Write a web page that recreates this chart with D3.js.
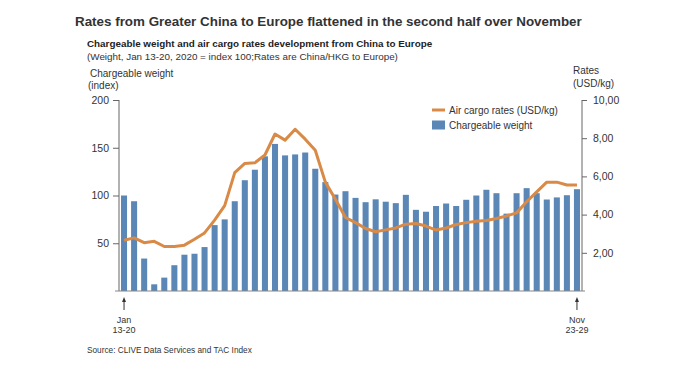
<!DOCTYPE html>
<html>
<head>
<meta charset="utf-8">
<script src="https://cdn.jsdelivr.net/npm/d3@7"></script>
<style>
  body { margin: 0; background: #fff; }
  svg text { font-family: "Liberation Sans", Arial, sans-serif; fill: #333; }
</style>
</head>
<body>
<svg id="chart" width="700" height="366"></svg>
<script>
// weekly chargeable weight index (Jan 13-20 = 100) and China/HKG -> Europe rates
const weight = [100, 94, 34, 7, 14, 27, 38, 39, 46, 69,
    75, 94, 116, 127, 141, 154, 142, 143, 145, 128,
    114, 101, 104.5, 97.5, 93, 96, 93.5, 92, 100.7, 85,
    83, 89, 91.6, 89, 95.5, 100, 106, 102.4, 81, 102.4,
    107.7, 102.4, 95.8, 98, 100.3, 106.6];
const rates = [2.66, 2.78, 2.53, 2.6, 2.33, 2.33, 2.4, 2.71, 3.04, 3.71,
    4.47, 6.2, 6.68, 6.71, 7.12, 8.22, 7.9, 8.47, 7.95, 7.37,
    5.7, 4.8, 3.85, 3.58, 3.27, 3.1, 3.2, 3.3, 3.5, 3.53,
    3.4, 3.19, 3.3, 3.48, 3.58, 3.65, 3.69, 3.8, 3.93, 4.09,
    4.67, 5.19, 5.7, 5.7, 5.55, 5.55];
const weeks = d3.range(weight.length);
const firstWeek = ["Jan", "13-20"];
const lastWeek = ["Nov", "23-29"];
const weightTicks = [50, 100, 150, 200];
const rateTicks = [2, 4, 6, 8, 10];

const barColor = "#5b87b7";
const lineColor = "#d98a47";

const svg = d3.select("#chart");
const plotL = 119, plotR = 582, plotT = 100, plotB = 291;

const x = d3.scaleBand()
    .domain(weeks)
    .range([plotL, plotR])
    .paddingInner(0.4)
    .paddingOuter(0.2);
const yW = d3.scaleLinear().domain([0, 200]).range([plotB, plotT]);
const yR = d3.scaleLinear().domain([0, 10]).range([plotB, plotT]);

// titles
svg.append("text").attr("x", 75).attr("y", 25.5)
    .style("font-size", "13.4px").style("font-weight", "bold")
    .text("Rates from Greater China to Europe flattened in the second half over November");
svg.append("text").attr("x", 87).attr("y", 47)
    .style("font-size", "9.85px").style("font-weight", "bold").style("fill", "#222")
    .text("Chargeable weight and air cargo rates development from China to Europe");
svg.append("text").attr("x", 87).attr("y", 59.5)
    .style("font-size", "9.85px")
    .text("(Weight, Jan 13-20, 2020 = index 100;Rates are China/HKG to Europe)");

svg.append("text").attr("x", 90).attr("y", 77)
    .style("font-size", "10px").text("Chargeable weight");
svg.append("text").attr("x", 88).attr("y", 89)
    .style("font-size", "10px").text("(index)");
svg.append("text").attr("x", 573).attr("y", 74)
    .style("font-size", "10px").text("Rates");
svg.append("text").attr("x", 573).attr("y", 87)
    .style("font-size", "10px").text("(USD/kg)");

// bars
svg.append("g").selectAll("rect")
    .data(weight)
    .enter()
    .append("rect")
    .attr("x", (d, i) => x(i))
    .attr("width", x.bandwidth())
    .attr("y", d => yW(d))
    .attr("height", d => yW(0) - yW(d))
    .attr("fill", barColor);

// rate line
const line = d3.line()
    .x((d, i) => x(i) + x.bandwidth() / 2)
    .y(d => yR(d));
svg.append("path")
    .datum(rates)
    .attr("d", line)
    .attr("fill", "none")
    .attr("stroke", lineColor)
    .attr("stroke-width", 3)
    .attr("stroke-linejoin", "round");

// left axis
const leftAxis = d3.axisLeft(yW).tickValues(weightTicks).tickSize(6).tickSizeOuter(0);
const gl = svg.append("g").attr("transform", `translate(${plotL},0)`).call(leftAxis);
gl.select(".domain").attr("stroke", "#666").attr("d", `M0,${plotT}V${plotB}`);
gl.selectAll(".tick line").attr("stroke", "#666");
gl.selectAll(".tick text").attr("x", -10).style("font-size", "10.5px").style("fill", "#333");

// right axis
const fmt = d3.format(".2f");
const rightAxis = d3.axisRight(yR).tickValues(rateTicks).tickSize(5)
    .tickFormat(d => fmt(d).replace(".", ","));
const gr = svg.append("g").attr("transform", `translate(${plotR},0)`).call(rightAxis);
gr.select(".domain").attr("stroke", "#666").attr("d", `M0,${plotT}V${plotB}`);
gr.selectAll(".tick line").attr("stroke", "#666");
gr.selectAll(".tick text").attr("x", 11).style("font-size", "10.5px").style("fill", "#333");

// baseline
svg.append("line")
    .attr("x1", plotL - 4).attr("x2", plotR + 3)
    .attr("y1", plotB).attr("y2", plotB)
    .attr("stroke", "#888").attr("stroke-width", 1.2);

// arrows to first and last week
const ends = [[weeks[0], firstWeek], [weeks[weeks.length - 1], lastWeek]];
ends.forEach(([w, lab]) => {
    const cx = x(w) + x.bandwidth() / 2;
    svg.append("line").attr("x1", cx).attr("x2", cx)
        .attr("y1", 310).attr("y2", 299)
        .attr("stroke", "#333").attr("stroke-width", 1);
    svg.append("path")
        .attr("d", `M${cx - 2},${302}L${cx},${297}L${cx + 2},${302}Z`)
        .attr("fill", "#333");
    svg.append("text").attr("x", cx).attr("y", 323)
        .attr("text-anchor", "middle").style("font-size", "9px").text(lab[0]);
    svg.append("text").attr("x", cx).attr("y", 333)
        .attr("text-anchor", "middle").style("font-size", "9px").text(lab[1]);
});

// legend
const lg = svg.append("g").attr("transform", "translate(432,110)");
lg.append("line").attr("x1", 0).attr("x2", 13).attr("y1", 0).attr("y2", 0)
    .attr("stroke", lineColor).attr("stroke-width", 3);
lg.append("text").attr("x", 17).attr("y", 3.5).style("font-size", "10px")
    .text("Air cargo rates (USD/kg)");
lg.append("rect").attr("x", 0).attr("y", 10.5).attr("width", 13).attr("height", 9)
    .attr("fill", barColor);
lg.append("text").attr("x", 17).attr("y", 19).style("font-size", "10px")
    .text("Chargeable weight");

// source
svg.append("text").attr("x", 87).attr("y", 353)
    .style("font-size", "8.25px")
    .text("Source: CLIVE Data Services and TAC Index");
</script>
</body>
</html>
